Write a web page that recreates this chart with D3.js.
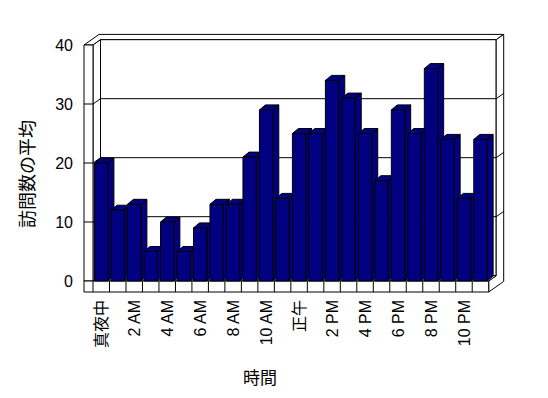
<!DOCTYPE html>
<html>
<head>
<meta charset="utf-8">
<script src="https://cdn.jsdelivr.net/npm/d3@7"></script>
<style>
  body { margin: 0; background: #fff; }
  svg text { font-family: "Liberation Sans", "Noto Sans CJK JP", sans-serif; fill: #000; }
</style>
</head>
<body>
<div id="chart"></div>
<script>
// hourly averages
var hours = [0, 1, 2, 3, 4, 5, 6, 7, 8, 9, 10, 11, 12, 13, 14, 15, 16, 17, 18, 19, 20, 21, 22, 23];
var visits = [20, 12, 13, 5, 10, 5, 9, 13, 13, 21, 29, 14, 25, 25, 34, 31, 25, 17, 29, 25, 36, 24, 14, 24];
var labelHours = [0, 2, 4, 6, 8, 10, 12, 14, 16, 18, 20, 22];
var labelText = ["真夜中", "2 AM", "4 AM", "6 AM", "8 AM", "10 AM", "正午", "2 PM", "4 PM", "6 PM", "8 PM", "10 PM"];
var yTicks = [0, 10, 20, 30, 40];
var yTitle = "訪問数の平均";
var xTitle = "時間";

var width = 548, height = 398;
var W0 = 84, X0 = 93, X1 = 488.7, yBottom = 292;
var ux = 7.5, uy = -5.3;   // wall depth step
var bx = 6, by = -5;       // bar depth
var navy = "#000080";

var svg = d3.select("#chart").append("svg")
  .attr("width", width).attr("height", height);

var x = d3.scaleBand().domain(hours).range([X0, X1]).paddingInner(0.19).paddingOuter(0.095);
var y = d3.scaleLinear().domain([0, 40]).range([281, 45]);
var y0 = y(0), yT = y(40);

function P(px, py, d) { return [px + d * ux, py + d * uy]; }
function poly(g, pts, fill) {
  return g.append("polygon")
    .attr("points", pts.map(function(p) { return p.join(","); }).join(" "))
    .attr("fill", fill).attr("stroke", "#000").attr("stroke-width", 1)
    .attr("stroke-linejoin", "miter");
}

var box = svg.append("g");
// top of walls
poly(box, [P(W0, yT, 0), P(X0, yT, 0), P(X0, yT, 1), P(X1, yT, 1), P(X1, yT, 2), P(W0, yT, 2)], "#fff");
// back wall face
poly(box, [P(X0, yT, 1), P(X1, yT, 1), P(X1, y0, 1), P(X0, y0, 1)], "#fff");
// right edge of back wall + floor side
poly(box, [P(X1, yT, 1), P(X1, yT, 2), P(X1, yBottom, 2), P(X1, yBottom, 0), P(X1, y0, 0), P(X1, y0, 1)], "#fff");
// left wall inner face
poly(box, [P(X0, yT, 0), P(X0, yT, 1), P(X0, y0, 1), P(X0, y0, 0)], "#fff");
// left wall front
poly(box, [[W0, yT], [X0, yT], [X0, y0], [W0, y0]], "#fff");
// floor top
poly(box, [P(X0, y0, 0), P(X1, y0, 0), P(X1, y0, 1), P(X0, y0, 1)], "#fff");
// floor front
poly(box, [[W0, y0], [X1, y0], [X1, yBottom], [W0, yBottom]], "#fff");

// floor ticks at category boundaries
var step = x.step();
box.selectAll("line.ftick")
  .data(hours)
  .enter().append("line")
    .attr("class", "ftick")
    .attr("x1", function(h) { return x(h) - step * x.paddingOuter(); })
    .attr("x2", function(h) { return x(h) - step * x.paddingOuter(); })
    .attr("y1", y0).attr("y2", yBottom)
    .attr("stroke", "#000");

// gridlines wrapping round the walls
var line = d3.line();
box.selectAll("path.grid")
  .data(yTicks.filter(function(v) { return v > 0 && v < 40; }))
  .enter().append("path")
    .attr("class", "grid")
    .attr("fill", "none").attr("stroke", "#000")
    .attr("d", function(v) {
      var yy = y(v);
      return line([P(W0, yy, 0), P(X0, yy, 0), P(X0, yy, 1), P(X1, yy, 1), P(X1, yy, 2)]);
    });

// bars, left to right so each hides the side of the one before
var bars = svg.append("g");
hours.forEach(function(h, i) {
  var v = visits[i];
  var xl = x(h), w = x.bandwidth(), xr = xl + w, yt = y(v);
  var g = bars.append("g");
  poly(g, [[xr, yt], [xr + bx, yt + by], [xr + bx, y0 + by], [xr, y0]], navy);
  poly(g, [[xl, yt], [xl + bx, yt + by], [xr + bx, yt + by], [xr, yt]], navy);
  poly(g, [[xl, yt], [xr, yt], [xr, y0], [xl, y0]], navy);
});

// y axis labels
svg.append("g")
  .attr("transform", "translate(" + W0 + ",0)")
  .call(d3.axisLeft(y).tickValues(yTicks).tickSize(0).tickPadding(11))
  .call(function(g) { g.select(".domain").remove(); })
  .selectAll("text")
    .style("font-size", "16px");

// x axis labels, rotated
svg.append("g")
  .attr("transform", "translate(0," + yBottom + ")")
  .call(d3.axisBottom(x).tickValues(labelHours).tickSize(0)
    .tickFormat(function(h) { return labelText[labelHours.indexOf(h)]; }))
  .call(function(g) { g.select(".domain").remove(); })
  .selectAll("text")
    .style("font-size", "16px")
    .attr("transform", "rotate(-90)")
    .attr("text-anchor", "end")
    .attr("x", -8).attr("y", 0).attr("dy", "0.35em");

svg.append("text")
  .attr("transform", "translate(28,174) rotate(-90)")
  .attr("text-anchor", "middle").attr("dominant-baseline", "central")
  .style("font-size", "18px")
  .text(yTitle);

svg.append("text")
  .attr("x", 260).attr("y", 378)
  .attr("text-anchor", "middle").attr("dominant-baseline", "central")
  .style("font-size", "17px")
  .text(xTitle);
</script>
</body>
</html>
